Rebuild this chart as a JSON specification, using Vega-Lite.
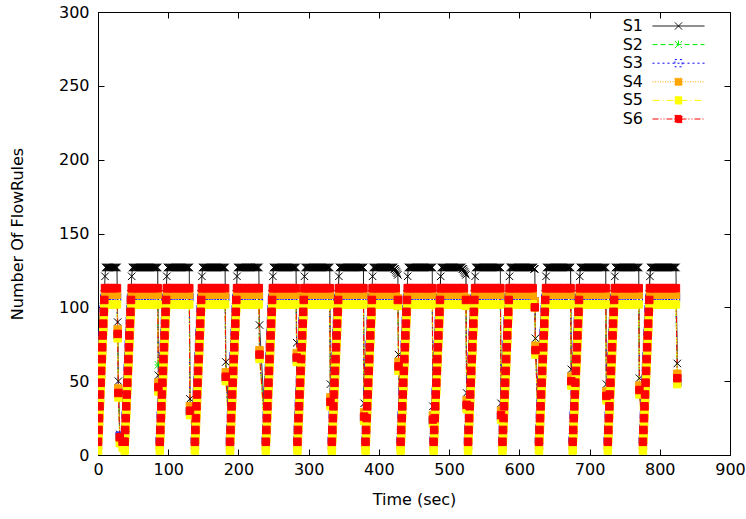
{
"$schema":"https://vega.github.io/schema/vega-lite/v6.json",
"width":632,"height":443,
"autosize":{"type":"none"},
"padding":{"left":98,"top":12,"right":16,"bottom":64},
"background":"white",
"config":{
"font":"DejaVu Sans",
"view":{"stroke":"black","strokeWidth":1},
"axis":{"labelFont":"DejaVu Sans","labelFontSize":16,"labelColor":"black","titleFont":"DejaVu Sans","titleFontSize":16,"titleFontWeight":"normal","titleColor":"black","grid":false,"domain":false,"tickColor":"black","tickSize":-6,"tickWidth":1,"labelFlush":false,"labelOverlap":false}
},
"data":{"values":[
{"t":0,"S1":12,"S2":7,"S3":10,"S4":6,"S5":3,"S6":9},
{"t":0.75,"S1":20,"S2":15,"S3":18,"S4":14,"S5":11,"S6":17},
{"t":1.5,"S1":28,"S2":23,"S3":27,"S4":22,"S5":19,"S6":25},
{"t":2.25,"S1":36,"S2":31,"S3":35,"S4":30,"S5":27,"S6":33},
{"t":3,"S1":44,"S2":39,"S3":43,"S4":38,"S5":35,"S6":41},
{"t":3.75,"S1":52,"S2":47,"S3":51,"S4":46,"S5":43,"S6":49},
{"t":4.5,"S1":60,"S2":55,"S3":59,"S4":54,"S5":51,"S6":57},
{"t":5.25,"S1":68,"S2":63,"S3":67,"S4":62,"S5":59,"S6":65},
{"t":6,"S1":76,"S2":71,"S3":75,"S4":70,"S5":67,"S6":73},
{"t":6.75,"S1":84,"S2":79,"S3":83,"S4":78,"S5":75,"S6":81},
{"t":7.5,"S1":92,"S2":87,"S3":91,"S4":86,"S5":83,"S6":89},
{"t":8.25,"S1":100,"S2":95,"S3":99,"S4":94,"S5":91,"S6":97},
{"t":9,"S1":109,"S2":101,"S3":106,"S4":104,"S5":99,"S6":105},
{"t":10,"S1":121,"S2":102,"S3":107,"S4":108.5,"S5":102,"S6":113},
{"t":11,"S1":127,"S2":102,"S3":107,"S4":108.5,"S5":102,"S6":113},
{"t":15,"S1":127,"S2":102,"S3":107,"S4":108.5,"S5":102,"S6":113},
{"t":19,"S1":127,"S2":102,"S3":107,"S4":108.5,"S5":102,"S6":113},
{"t":23,"S1":127,"S2":102,"S3":107,"S4":108.5,"S5":102,"S6":113},
{"t":27,"S1":127,"S2":102,"S3":107,"S4":108.5,"S5":102,"S6":113},
{"t":28,"S1":90,"S2":84,"S3":81,"S4":85,"S5":79,"S6":82},
{"t":29,"S1":50,"S2":44,"S3":41,"S4":45,"S5":39,"S6":42},
{"t":31,"S1":14,"S2":12,"S3":13,"S4":11,"S5":8,"S6":12},
{"t":35,"S1":10,"S2":9,"S3":10,"S4":8,"S5":5,"S6":9},
{"t":38,"S1":12,"S2":7,"S3":10,"S4":6,"S5":3,"S6":9},
{"t":38.75,"S1":20,"S2":15,"S3":18,"S4":14,"S5":11,"S6":17},
{"t":39.5,"S1":28,"S2":23,"S3":27,"S4":22,"S5":19,"S6":25},
{"t":40.25,"S1":36,"S2":31,"S3":35,"S4":30,"S5":27,"S6":33},
{"t":41,"S1":44,"S2":39,"S3":43,"S4":38,"S5":35,"S6":41},
{"t":41.75,"S1":52,"S2":47,"S3":51,"S4":46,"S5":43,"S6":49},
{"t":42.5,"S1":60,"S2":55,"S3":59,"S4":54,"S5":51,"S6":57},
{"t":43.25,"S1":68,"S2":63,"S3":67,"S4":62,"S5":59,"S6":65},
{"t":44,"S1":76,"S2":71,"S3":75,"S4":70,"S5":67,"S6":73},
{"t":44.75,"S1":84,"S2":79,"S3":83,"S4":78,"S5":75,"S6":81},
{"t":45.5,"S1":92,"S2":87,"S3":91,"S4":86,"S5":83,"S6":89},
{"t":46.25,"S1":100,"S2":95,"S3":99,"S4":94,"S5":91,"S6":97},
{"t":47,"S1":109,"S2":101,"S3":106,"S4":104,"S5":99,"S6":105},
{"t":48,"S1":121,"S2":102,"S3":107,"S4":108.5,"S5":102,"S6":113},
{"t":49,"S1":127,"S2":102,"S3":107,"S4":108.5,"S5":102,"S6":113},
{"t":53,"S1":127,"S2":102,"S3":107,"S4":108.5,"S5":102,"S6":113},
{"t":57,"S1":127,"S2":102,"S3":107,"S4":108.5,"S5":102,"S6":113},
{"t":61,"S1":127,"S2":102,"S3":107,"S4":108.5,"S5":102,"S6":113},
{"t":65,"S1":127,"S2":102,"S3":107,"S4":108.5,"S5":102,"S6":113},
{"t":69,"S1":127,"S2":102,"S3":107,"S4":108.5,"S5":102,"S6":113},
{"t":73,"S1":127,"S2":102,"S3":107,"S4":108.5,"S5":102,"S6":113},
{"t":77,"S1":127,"S2":102,"S3":107,"S4":108.5,"S5":102,"S6":113},
{"t":81,"S1":127,"S2":102,"S3":107,"S4":108.5,"S5":102,"S6":113},
{"t":85,"S1":127,"S2":102,"S3":107,"S4":108.5,"S5":102,"S6":113},
{"t":86,"S1":54,"S2":61,"S3":45,"S4":49,"S5":43,"S6":46},
{"t":88,"S1":12,"S2":7,"S3":10,"S4":6,"S5":3,"S6":9},
{"t":88.75,"S1":20,"S2":15,"S3":18,"S4":14,"S5":11,"S6":17},
{"t":89.5,"S1":28,"S2":23,"S3":27,"S4":22,"S5":19,"S6":25},
{"t":90.25,"S1":36,"S2":31,"S3":35,"S4":30,"S5":27,"S6":33},
{"t":91,"S1":44,"S2":39,"S3":43,"S4":38,"S5":35,"S6":41},
{"t":91.75,"S1":52,"S2":47,"S3":51,"S4":46,"S5":43,"S6":49},
{"t":92.5,"S1":60,"S2":55,"S3":59,"S4":54,"S5":51,"S6":57},
{"t":93.25,"S1":68,"S2":63,"S3":67,"S4":62,"S5":59,"S6":65},
{"t":94,"S1":76,"S2":71,"S3":75,"S4":70,"S5":67,"S6":73},
{"t":94.75,"S1":84,"S2":79,"S3":83,"S4":78,"S5":75,"S6":81},
{"t":95.5,"S1":92,"S2":87,"S3":91,"S4":86,"S5":83,"S6":89},
{"t":96.25,"S1":100,"S2":95,"S3":99,"S4":94,"S5":91,"S6":97},
{"t":97,"S1":109,"S2":101,"S3":106,"S4":104,"S5":99,"S6":105},
{"t":98,"S1":121,"S2":102,"S3":107,"S4":108.5,"S5":102,"S6":113},
{"t":99,"S1":127,"S2":102,"S3":107,"S4":108.5,"S5":102,"S6":113},
{"t":103,"S1":127,"S2":102,"S3":107,"S4":108.5,"S5":102,"S6":113},
{"t":107,"S1":127,"S2":102,"S3":107,"S4":108.5,"S5":102,"S6":113},
{"t":111,"S1":127,"S2":102,"S3":107,"S4":108.5,"S5":102,"S6":113},
{"t":115,"S1":127,"S2":102,"S3":107,"S4":108.5,"S5":102,"S6":113},
{"t":119,"S1":127,"S2":102,"S3":107,"S4":108.5,"S5":102,"S6":113},
{"t":123,"S1":127,"S2":102,"S3":107,"S4":108.5,"S5":102,"S6":113},
{"t":127,"S1":127,"S2":102,"S3":107,"S4":108.5,"S5":102,"S6":113},
{"t":130,"S1":127,"S2":102,"S3":107,"S4":108.5,"S5":102,"S6":113},
{"t":131,"S1":38,"S2":32,"S3":29,"S4":33,"S5":27,"S6":30},
{"t":138,"S1":12,"S2":7,"S3":10,"S4":6,"S5":3,"S6":9},
{"t":138.75,"S1":20,"S2":15,"S3":18,"S4":14,"S5":11,"S6":17},
{"t":139.5,"S1":28,"S2":23,"S3":27,"S4":22,"S5":19,"S6":25},
{"t":140.25,"S1":36,"S2":31,"S3":35,"S4":30,"S5":27,"S6":33},
{"t":141,"S1":44,"S2":39,"S3":43,"S4":38,"S5":35,"S6":41},
{"t":141.75,"S1":52,"S2":47,"S3":51,"S4":46,"S5":43,"S6":49},
{"t":142.5,"S1":60,"S2":55,"S3":59,"S4":54,"S5":51,"S6":57},
{"t":143.25,"S1":68,"S2":63,"S3":67,"S4":62,"S5":59,"S6":65},
{"t":144,"S1":76,"S2":71,"S3":75,"S4":70,"S5":67,"S6":73},
{"t":144.75,"S1":84,"S2":79,"S3":83,"S4":78,"S5":75,"S6":81},
{"t":145.5,"S1":92,"S2":87,"S3":91,"S4":86,"S5":83,"S6":89},
{"t":146.25,"S1":100,"S2":95,"S3":99,"S4":94,"S5":91,"S6":97},
{"t":147,"S1":109,"S2":101,"S3":106,"S4":104,"S5":99,"S6":105},
{"t":148,"S1":121,"S2":102,"S3":107,"S4":108.5,"S5":102,"S6":113},
{"t":149,"S1":127,"S2":102,"S3":107,"S4":108.5,"S5":102,"S6":113},
{"t":153,"S1":127,"S2":102,"S3":107,"S4":108.5,"S5":102,"S6":113},
{"t":157,"S1":127,"S2":102,"S3":107,"S4":108.5,"S5":102,"S6":113},
{"t":161,"S1":127,"S2":102,"S3":107,"S4":108.5,"S5":102,"S6":113},
{"t":165,"S1":127,"S2":102,"S3":107,"S4":108.5,"S5":102,"S6":113},
{"t":169,"S1":127,"S2":102,"S3":107,"S4":108.5,"S5":102,"S6":113},
{"t":173,"S1":127,"S2":102,"S3":107,"S4":108.5,"S5":102,"S6":113},
{"t":177,"S1":127,"S2":102,"S3":107,"S4":108.5,"S5":102,"S6":113},
{"t":181,"S1":127,"S2":102,"S3":107,"S4":108.5,"S5":102,"S6":113},
{"t":182,"S1":63,"S2":55,"S3":52,"S4":56,"S5":50,"S6":53},
{"t":188,"S1":12,"S2":7,"S3":10,"S4":6,"S5":3,"S6":9},
{"t":188.75,"S1":20,"S2":15,"S3":18,"S4":14,"S5":11,"S6":17},
{"t":189.5,"S1":28,"S2":23,"S3":27,"S4":22,"S5":19,"S6":25},
{"t":190.25,"S1":36,"S2":31,"S3":35,"S4":30,"S5":27,"S6":33},
{"t":191,"S1":44,"S2":39,"S3":43,"S4":38,"S5":35,"S6":41},
{"t":191.75,"S1":52,"S2":47,"S3":51,"S4":46,"S5":43,"S6":49},
{"t":192.5,"S1":60,"S2":55,"S3":59,"S4":54,"S5":51,"S6":57},
{"t":193.25,"S1":68,"S2":63,"S3":67,"S4":62,"S5":59,"S6":65},
{"t":194,"S1":76,"S2":71,"S3":75,"S4":70,"S5":67,"S6":73},
{"t":194.75,"S1":84,"S2":79,"S3":83,"S4":78,"S5":75,"S6":81},
{"t":195.5,"S1":92,"S2":87,"S3":91,"S4":86,"S5":83,"S6":89},
{"t":196.25,"S1":100,"S2":95,"S3":99,"S4":94,"S5":91,"S6":97},
{"t":197,"S1":109,"S2":101,"S3":106,"S4":104,"S5":99,"S6":105},
{"t":198,"S1":121,"S2":102,"S3":107,"S4":108.5,"S5":102,"S6":113},
{"t":199,"S1":127,"S2":102,"S3":107,"S4":108.5,"S5":102,"S6":113},
{"t":203,"S1":127,"S2":102,"S3":107,"S4":108.5,"S5":102,"S6":113},
{"t":207,"S1":127,"S2":102,"S3":107,"S4":108.5,"S5":102,"S6":113},
{"t":211,"S1":127,"S2":102,"S3":107,"S4":108.5,"S5":102,"S6":113},
{"t":215,"S1":127,"S2":102,"S3":107,"S4":108.5,"S5":102,"S6":113},
{"t":219,"S1":127,"S2":102,"S3":107,"S4":108.5,"S5":102,"S6":113},
{"t":223,"S1":127,"S2":102,"S3":107,"S4":108.5,"S5":102,"S6":113},
{"t":227,"S1":127,"S2":102,"S3":107,"S4":108.5,"S5":102,"S6":113},
{"t":229,"S1":127,"S2":102,"S3":107,"S4":108.5,"S5":102,"S6":113},
{"t":230,"S1":88,"S2":70,"S3":67,"S4":71,"S5":65,"S6":68},
{"t":239,"S1":12,"S2":7,"S3":10,"S4":6,"S5":3,"S6":9},
{"t":239.75,"S1":20,"S2":15,"S3":18,"S4":14,"S5":11,"S6":17},
{"t":240.5,"S1":28,"S2":23,"S3":27,"S4":22,"S5":19,"S6":25},
{"t":241.25,"S1":36,"S2":31,"S3":35,"S4":30,"S5":27,"S6":33},
{"t":242,"S1":44,"S2":39,"S3":43,"S4":38,"S5":35,"S6":41},
{"t":242.75,"S1":52,"S2":47,"S3":51,"S4":46,"S5":43,"S6":49},
{"t":243.5,"S1":60,"S2":55,"S3":59,"S4":54,"S5":51,"S6":57},
{"t":244.25,"S1":68,"S2":63,"S3":67,"S4":62,"S5":59,"S6":65},
{"t":245,"S1":76,"S2":71,"S3":75,"S4":70,"S5":67,"S6":73},
{"t":245.75,"S1":84,"S2":79,"S3":83,"S4":78,"S5":75,"S6":81},
{"t":246.5,"S1":92,"S2":87,"S3":91,"S4":86,"S5":83,"S6":89},
{"t":247.25,"S1":100,"S2":95,"S3":99,"S4":94,"S5":91,"S6":97},
{"t":248,"S1":109,"S2":101,"S3":106,"S4":104,"S5":99,"S6":105},
{"t":249,"S1":121,"S2":102,"S3":107,"S4":108.5,"S5":102,"S6":113},
{"t":250,"S1":127,"S2":102,"S3":107,"S4":108.5,"S5":102,"S6":113},
{"t":254,"S1":127,"S2":102,"S3":107,"S4":108.5,"S5":102,"S6":113},
{"t":258,"S1":127,"S2":102,"S3":107,"S4":108.5,"S5":102,"S6":113},
{"t":262,"S1":127,"S2":102,"S3":107,"S4":108.5,"S5":102,"S6":113},
{"t":266,"S1":127,"S2":102,"S3":107,"S4":108.5,"S5":102,"S6":113},
{"t":270,"S1":127,"S2":102,"S3":107,"S4":108.5,"S5":102,"S6":113},
{"t":274,"S1":127,"S2":102,"S3":107,"S4":108.5,"S5":102,"S6":113},
{"t":278,"S1":127,"S2":102,"S3":107,"S4":108.5,"S5":102,"S6":113},
{"t":282,"S1":127,"S2":102,"S3":107,"S4":108.5,"S5":102,"S6":113},
{"t":283,"S1":76,"S2":68,"S3":65,"S4":69,"S5":63,"S6":66},
{"t":284,"S1":12,"S2":7,"S3":10,"S4":6,"S5":3,"S6":9},
{"t":284.75,"S1":20,"S2":15,"S3":18,"S4":14,"S5":11,"S6":17},
{"t":285.5,"S1":28,"S2":23,"S3":27,"S4":22,"S5":19,"S6":25},
{"t":286.25,"S1":36,"S2":31,"S3":35,"S4":30,"S5":27,"S6":33},
{"t":287,"S1":44,"S2":39,"S3":43,"S4":38,"S5":35,"S6":41},
{"t":287.75,"S1":52,"S2":47,"S3":51,"S4":46,"S5":43,"S6":49},
{"t":288.5,"S1":60,"S2":55,"S3":59,"S4":54,"S5":51,"S6":57},
{"t":289.25,"S1":68,"S2":63,"S3":67,"S4":62,"S5":59,"S6":65},
{"t":290,"S1":76,"S2":71,"S3":75,"S4":70,"S5":67,"S6":73},
{"t":290.75,"S1":84,"S2":79,"S3":83,"S4":78,"S5":75,"S6":81},
{"t":291.5,"S1":92,"S2":87,"S3":91,"S4":86,"S5":83,"S6":89},
{"t":292.25,"S1":100,"S2":95,"S3":99,"S4":94,"S5":91,"S6":97},
{"t":293,"S1":109,"S2":101,"S3":106,"S4":104,"S5":99,"S6":105},
{"t":294,"S1":121,"S2":102,"S3":107,"S4":108.5,"S5":102,"S6":113},
{"t":295,"S1":127,"S2":102,"S3":107,"S4":108.5,"S5":102,"S6":113},
{"t":299,"S1":127,"S2":102,"S3":107,"S4":108.5,"S5":102,"S6":113},
{"t":303,"S1":127,"S2":102,"S3":107,"S4":108.5,"S5":102,"S6":113},
{"t":307,"S1":127,"S2":102,"S3":107,"S4":108.5,"S5":102,"S6":113},
{"t":311,"S1":127,"S2":102,"S3":107,"S4":108.5,"S5":102,"S6":113},
{"t":315,"S1":127,"S2":102,"S3":107,"S4":108.5,"S5":102,"S6":113},
{"t":319,"S1":127,"S2":102,"S3":107,"S4":108.5,"S5":102,"S6":113},
{"t":323,"S1":127,"S2":102,"S3":107,"S4":108.5,"S5":102,"S6":113},
{"t":327,"S1":127,"S2":102,"S3":107,"S4":108.5,"S5":102,"S6":113},
{"t":330,"S1":127,"S2":102,"S3":107,"S4":108.5,"S5":102,"S6":113},
{"t":331,"S1":48,"S2":38,"S3":35,"S4":39,"S5":33,"S6":36},
{"t":333,"S1":12,"S2":7,"S3":10,"S4":6,"S5":3,"S6":9},
{"t":333.75,"S1":20,"S2":15,"S3":18,"S4":14,"S5":11,"S6":17},
{"t":334.5,"S1":28,"S2":23,"S3":27,"S4":22,"S5":19,"S6":25},
{"t":335.25,"S1":36,"S2":31,"S3":35,"S4":30,"S5":27,"S6":33},
{"t":336,"S1":44,"S2":39,"S3":43,"S4":38,"S5":35,"S6":41},
{"t":336.75,"S1":52,"S2":47,"S3":51,"S4":46,"S5":43,"S6":49},
{"t":337.5,"S1":60,"S2":55,"S3":59,"S4":54,"S5":51,"S6":57},
{"t":338.25,"S1":68,"S2":63,"S3":67,"S4":62,"S5":59,"S6":65},
{"t":339,"S1":76,"S2":71,"S3":75,"S4":70,"S5":67,"S6":73},
{"t":339.75,"S1":84,"S2":79,"S3":83,"S4":78,"S5":75,"S6":81},
{"t":340.5,"S1":92,"S2":87,"S3":91,"S4":86,"S5":83,"S6":89},
{"t":341.25,"S1":100,"S2":95,"S3":99,"S4":94,"S5":91,"S6":97},
{"t":342,"S1":109,"S2":101,"S3":106,"S4":104,"S5":99,"S6":105},
{"t":343,"S1":121,"S2":102,"S3":107,"S4":108.5,"S5":102,"S6":113},
{"t":344,"S1":127,"S2":102,"S3":107,"S4":108.5,"S5":102,"S6":113},
{"t":348,"S1":127,"S2":102,"S3":107,"S4":108.5,"S5":102,"S6":113},
{"t":352,"S1":127,"S2":102,"S3":107,"S4":108.5,"S5":102,"S6":113},
{"t":356,"S1":127,"S2":102,"S3":107,"S4":108.5,"S5":102,"S6":113},
{"t":360,"S1":127,"S2":102,"S3":107,"S4":108.5,"S5":102,"S6":113},
{"t":364,"S1":127,"S2":102,"S3":107,"S4":108.5,"S5":102,"S6":113},
{"t":368,"S1":127,"S2":102,"S3":107,"S4":108.5,"S5":102,"S6":113},
{"t":372,"S1":127,"S2":102,"S3":107,"S4":108.5,"S5":102,"S6":113},
{"t":376,"S1":127,"S2":102,"S3":107,"S4":108.5,"S5":102,"S6":113},
{"t":378,"S1":127,"S2":102,"S3":107,"S4":108.5,"S5":102,"S6":113},
{"t":379,"S1":35,"S2":28,"S3":25,"S4":29,"S5":23,"S6":26},
{"t":381,"S1":12,"S2":7,"S3":10,"S4":6,"S5":3,"S6":9},
{"t":381.75,"S1":20,"S2":15,"S3":18,"S4":14,"S5":11,"S6":17},
{"t":382.5,"S1":28,"S2":23,"S3":27,"S4":22,"S5":19,"S6":25},
{"t":383.25,"S1":36,"S2":31,"S3":35,"S4":30,"S5":27,"S6":33},
{"t":384,"S1":44,"S2":39,"S3":43,"S4":38,"S5":35,"S6":41},
{"t":384.75,"S1":52,"S2":47,"S3":51,"S4":46,"S5":43,"S6":49},
{"t":385.5,"S1":60,"S2":55,"S3":59,"S4":54,"S5":51,"S6":57},
{"t":386.25,"S1":68,"S2":63,"S3":67,"S4":62,"S5":59,"S6":65},
{"t":387,"S1":76,"S2":71,"S3":75,"S4":70,"S5":67,"S6":73},
{"t":387.75,"S1":84,"S2":79,"S3":83,"S4":78,"S5":75,"S6":81},
{"t":388.5,"S1":92,"S2":87,"S3":91,"S4":86,"S5":83,"S6":89},
{"t":389.25,"S1":100,"S2":95,"S3":99,"S4":94,"S5":91,"S6":97},
{"t":390,"S1":109,"S2":101,"S3":106,"S4":104,"S5":99,"S6":105},
{"t":391,"S1":121,"S2":102,"S3":107,"S4":108.5,"S5":102,"S6":113},
{"t":392,"S1":127,"S2":102,"S3":107,"S4":108.5,"S5":102,"S6":113},
{"t":396,"S1":127,"S2":102,"S3":107,"S4":108.5,"S5":102,"S6":113},
{"t":400,"S1":127,"S2":102,"S3":107,"S4":108.5,"S5":102,"S6":113},
{"t":404,"S1":127,"S2":102,"S3":107,"S4":108.5,"S5":102,"S6":113},
{"t":408,"S1":127,"S2":102,"S3":107,"S4":108.5,"S5":102,"S6":113},
{"t":412,"S1":127,"S2":102,"S3":107,"S4":108.5,"S5":102,"S6":113},
{"t":416,"S1":127,"S2":102,"S3":107,"S4":108.5,"S5":102,"S6":113},
{"t":420,"S1":127,"S2":102,"S3":107,"S4":108.5,"S5":102,"S6":113},
{"t":424,"S1":125,"S2":102,"S3":107,"S4":108.5,"S5":102,"S6":113},
{"t":427,"S1":122,"S2":101,"S3":105,"S4":106,"S5":101,"S6":105},
{"t":428,"S1":68,"S2":62,"S3":59,"S4":63,"S5":57,"S6":60},
{"t":431,"S1":12,"S2":7,"S3":10,"S4":6,"S5":3,"S6":9},
{"t":431.75,"S1":20,"S2":15,"S3":18,"S4":14,"S5":11,"S6":17},
{"t":432.5,"S1":28,"S2":23,"S3":27,"S4":22,"S5":19,"S6":25},
{"t":433.25,"S1":36,"S2":31,"S3":35,"S4":30,"S5":27,"S6":33},
{"t":434,"S1":44,"S2":39,"S3":43,"S4":38,"S5":35,"S6":41},
{"t":434.75,"S1":52,"S2":47,"S3":51,"S4":46,"S5":43,"S6":49},
{"t":435.5,"S1":60,"S2":55,"S3":59,"S4":54,"S5":51,"S6":57},
{"t":436.25,"S1":68,"S2":63,"S3":67,"S4":62,"S5":59,"S6":65},
{"t":437,"S1":76,"S2":71,"S3":75,"S4":70,"S5":67,"S6":73},
{"t":437.75,"S1":84,"S2":79,"S3":83,"S4":78,"S5":75,"S6":81},
{"t":438.5,"S1":92,"S2":87,"S3":91,"S4":86,"S5":83,"S6":89},
{"t":439.25,"S1":100,"S2":95,"S3":99,"S4":94,"S5":91,"S6":97},
{"t":440,"S1":109,"S2":101,"S3":106,"S4":104,"S5":99,"S6":105},
{"t":441,"S1":121,"S2":102,"S3":107,"S4":108.5,"S5":102,"S6":113},
{"t":442,"S1":127,"S2":102,"S3":107,"S4":108.5,"S5":102,"S6":113},
{"t":446,"S1":127,"S2":102,"S3":107,"S4":108.5,"S5":102,"S6":113},
{"t":450,"S1":127,"S2":102,"S3":107,"S4":108.5,"S5":102,"S6":113},
{"t":454,"S1":127,"S2":102,"S3":107,"S4":108.5,"S5":102,"S6":113},
{"t":458,"S1":127,"S2":102,"S3":107,"S4":108.5,"S5":102,"S6":113},
{"t":462,"S1":127,"S2":102,"S3":107,"S4":108.5,"S5":102,"S6":113},
{"t":466,"S1":127,"S2":102,"S3":107,"S4":108.5,"S5":102,"S6":113},
{"t":470,"S1":127,"S2":102,"S3":107,"S4":108.5,"S5":102,"S6":113},
{"t":474,"S1":127,"S2":102,"S3":107,"S4":108.5,"S5":102,"S6":113},
{"t":476,"S1":127,"S2":102,"S3":107,"S4":108.5,"S5":102,"S6":113},
{"t":477,"S1":33,"S2":26,"S3":23,"S4":27,"S5":21,"S6":24},
{"t":478,"S1":12,"S2":7,"S3":10,"S4":6,"S5":3,"S6":9},
{"t":478.75,"S1":20,"S2":15,"S3":18,"S4":14,"S5":11,"S6":17},
{"t":479.5,"S1":28,"S2":23,"S3":27,"S4":22,"S5":19,"S6":25},
{"t":480.25,"S1":36,"S2":31,"S3":35,"S4":30,"S5":27,"S6":33},
{"t":481,"S1":44,"S2":39,"S3":43,"S4":38,"S5":35,"S6":41},
{"t":481.75,"S1":52,"S2":47,"S3":51,"S4":46,"S5":43,"S6":49},
{"t":482.5,"S1":60,"S2":55,"S3":59,"S4":54,"S5":51,"S6":57},
{"t":483.25,"S1":68,"S2":63,"S3":67,"S4":62,"S5":59,"S6":65},
{"t":484,"S1":76,"S2":71,"S3":75,"S4":70,"S5":67,"S6":73},
{"t":484.75,"S1":84,"S2":79,"S3":83,"S4":78,"S5":75,"S6":81},
{"t":485.5,"S1":92,"S2":87,"S3":91,"S4":86,"S5":83,"S6":89},
{"t":486.25,"S1":100,"S2":95,"S3":99,"S4":94,"S5":91,"S6":97},
{"t":487,"S1":109,"S2":101,"S3":106,"S4":104,"S5":99,"S6":105},
{"t":488,"S1":121,"S2":102,"S3":107,"S4":108.5,"S5":102,"S6":113},
{"t":489,"S1":127,"S2":102,"S3":107,"S4":108.5,"S5":102,"S6":113},
{"t":493,"S1":127,"S2":102,"S3":107,"S4":108.5,"S5":102,"S6":113},
{"t":497,"S1":127,"S2":102,"S3":107,"S4":108.5,"S5":102,"S6":113},
{"t":501,"S1":127,"S2":102,"S3":107,"S4":108.5,"S5":102,"S6":113},
{"t":505,"S1":127,"S2":102,"S3":107,"S4":108.5,"S5":102,"S6":113},
{"t":509,"S1":127,"S2":102,"S3":107,"S4":108.5,"S5":102,"S6":113},
{"t":513,"S1":127,"S2":102,"S3":107,"S4":108.5,"S5":102,"S6":113},
{"t":517,"S1":127,"S2":102,"S3":107,"S4":108.5,"S5":102,"S6":113},
{"t":521,"S1":125,"S2":102,"S3":107,"S4":108.5,"S5":102,"S6":113},
{"t":524,"S1":122,"S2":101,"S3":105,"S4":106,"S5":101,"S6":105},
{"t":525,"S1":42,"S2":36,"S3":33,"S4":37,"S5":31,"S6":34},
{"t":527,"S1":12,"S2":7,"S3":10,"S4":6,"S5":3,"S6":9},
{"t":527.75,"S1":20,"S2":15,"S3":18,"S4":14,"S5":11,"S6":17},
{"t":528.5,"S1":28,"S2":23,"S3":27,"S4":22,"S5":19,"S6":25},
{"t":529.25,"S1":36,"S2":31,"S3":35,"S4":30,"S5":27,"S6":33},
{"t":530,"S1":44,"S2":39,"S3":43,"S4":38,"S5":35,"S6":41},
{"t":530.75,"S1":52,"S2":47,"S3":51,"S4":46,"S5":43,"S6":49},
{"t":531.5,"S1":60,"S2":55,"S3":59,"S4":54,"S5":51,"S6":57},
{"t":532.25,"S1":68,"S2":63,"S3":67,"S4":62,"S5":59,"S6":65},
{"t":533,"S1":76,"S2":71,"S3":75,"S4":70,"S5":67,"S6":73},
{"t":533.75,"S1":84,"S2":79,"S3":83,"S4":78,"S5":75,"S6":81},
{"t":534.5,"S1":92,"S2":87,"S3":91,"S4":86,"S5":83,"S6":89},
{"t":535.25,"S1":100,"S2":95,"S3":99,"S4":94,"S5":91,"S6":97},
{"t":536,"S1":109,"S2":101,"S3":106,"S4":104,"S5":99,"S6":105},
{"t":537,"S1":121,"S2":102,"S3":107,"S4":108.5,"S5":102,"S6":113},
{"t":538,"S1":127,"S2":102,"S3":107,"S4":108.5,"S5":102,"S6":113},
{"t":542,"S1":127,"S2":102,"S3":107,"S4":108.5,"S5":102,"S6":113},
{"t":546,"S1":127,"S2":102,"S3":107,"S4":108.5,"S5":102,"S6":113},
{"t":550,"S1":127,"S2":102,"S3":107,"S4":108.5,"S5":102,"S6":113},
{"t":554,"S1":127,"S2":102,"S3":107,"S4":108.5,"S5":102,"S6":113},
{"t":558,"S1":127,"S2":102,"S3":107,"S4":108.5,"S5":102,"S6":113},
{"t":562,"S1":127,"S2":102,"S3":107,"S4":108.5,"S5":102,"S6":113},
{"t":566,"S1":127,"S2":102,"S3":107,"S4":108.5,"S5":102,"S6":113},
{"t":570,"S1":127,"S2":102,"S3":107,"S4":108.5,"S5":102,"S6":113},
{"t":573,"S1":127,"S2":102,"S3":107,"S4":108.5,"S5":102,"S6":113},
{"t":574,"S1":35,"S2":29,"S3":26,"S4":30,"S5":24,"S6":27},
{"t":576,"S1":12,"S2":7,"S3":10,"S4":6,"S5":3,"S6":9},
{"t":576.75,"S1":20,"S2":15,"S3":18,"S4":14,"S5":11,"S6":17},
{"t":577.5,"S1":28,"S2":23,"S3":27,"S4":22,"S5":19,"S6":25},
{"t":578.25,"S1":36,"S2":31,"S3":35,"S4":30,"S5":27,"S6":33},
{"t":579,"S1":44,"S2":39,"S3":43,"S4":38,"S5":35,"S6":41},
{"t":579.75,"S1":52,"S2":47,"S3":51,"S4":46,"S5":43,"S6":49},
{"t":580.5,"S1":60,"S2":55,"S3":59,"S4":54,"S5":51,"S6":57},
{"t":581.25,"S1":68,"S2":63,"S3":67,"S4":62,"S5":59,"S6":65},
{"t":582,"S1":76,"S2":71,"S3":75,"S4":70,"S5":67,"S6":73},
{"t":582.75,"S1":84,"S2":79,"S3":83,"S4":78,"S5":75,"S6":81},
{"t":583.5,"S1":92,"S2":87,"S3":91,"S4":86,"S5":83,"S6":89},
{"t":584.25,"S1":100,"S2":95,"S3":99,"S4":94,"S5":91,"S6":97},
{"t":585,"S1":109,"S2":101,"S3":106,"S4":104,"S5":99,"S6":105},
{"t":586,"S1":121,"S2":102,"S3":107,"S4":108.5,"S5":102,"S6":113},
{"t":587,"S1":127,"S2":102,"S3":107,"S4":108.5,"S5":102,"S6":113},
{"t":591,"S1":127,"S2":102,"S3":107,"S4":108.5,"S5":102,"S6":113},
{"t":595,"S1":127,"S2":102,"S3":107,"S4":108.5,"S5":102,"S6":113},
{"t":599,"S1":127,"S2":102,"S3":107,"S4":108.5,"S5":102,"S6":113},
{"t":603,"S1":127,"S2":102,"S3":107,"S4":108.5,"S5":102,"S6":113},
{"t":607,"S1":127,"S2":102,"S3":107,"S4":108.5,"S5":102,"S6":113},
{"t":611,"S1":127,"S2":102,"S3":107,"S4":108.5,"S5":102,"S6":113},
{"t":615,"S1":127,"S2":102,"S3":107,"S4":108.5,"S5":102,"S6":113},
{"t":619,"S1":127,"S2":102,"S3":107,"S4":108.5,"S5":102,"S6":113},
{"t":622,"S1":126,"S2":101,"S3":104,"S4":104,"S5":100,"S6":100},
{"t":623,"S1":79,"S2":73,"S3":70,"S4":74,"S5":68,"S6":71},
{"t":628,"S1":12,"S2":7,"S3":10,"S4":6,"S5":3,"S6":9},
{"t":628.75,"S1":20,"S2":15,"S3":18,"S4":14,"S5":11,"S6":17},
{"t":629.5,"S1":28,"S2":23,"S3":27,"S4":22,"S5":19,"S6":25},
{"t":630.25,"S1":36,"S2":31,"S3":35,"S4":30,"S5":27,"S6":33},
{"t":631,"S1":44,"S2":39,"S3":43,"S4":38,"S5":35,"S6":41},
{"t":631.75,"S1":52,"S2":47,"S3":51,"S4":46,"S5":43,"S6":49},
{"t":632.5,"S1":60,"S2":55,"S3":59,"S4":54,"S5":51,"S6":57},
{"t":633.25,"S1":68,"S2":63,"S3":67,"S4":62,"S5":59,"S6":65},
{"t":634,"S1":76,"S2":71,"S3":75,"S4":70,"S5":67,"S6":73},
{"t":634.75,"S1":84,"S2":79,"S3":83,"S4":78,"S5":75,"S6":81},
{"t":635.5,"S1":92,"S2":87,"S3":91,"S4":86,"S5":83,"S6":89},
{"t":636.25,"S1":100,"S2":95,"S3":99,"S4":94,"S5":91,"S6":97},
{"t":637,"S1":109,"S2":101,"S3":106,"S4":104,"S5":99,"S6":105},
{"t":638,"S1":121,"S2":102,"S3":107,"S4":108.5,"S5":102,"S6":113},
{"t":639,"S1":127,"S2":102,"S3":107,"S4":108.5,"S5":102,"S6":113},
{"t":643,"S1":127,"S2":102,"S3":107,"S4":108.5,"S5":102,"S6":113},
{"t":647,"S1":127,"S2":102,"S3":107,"S4":108.5,"S5":102,"S6":113},
{"t":651,"S1":127,"S2":102,"S3":107,"S4":108.5,"S5":102,"S6":113},
{"t":655,"S1":127,"S2":102,"S3":107,"S4":108.5,"S5":102,"S6":113},
{"t":659,"S1":127,"S2":102,"S3":107,"S4":108.5,"S5":102,"S6":113},
{"t":663,"S1":127,"S2":102,"S3":107,"S4":108.5,"S5":102,"S6":113},
{"t":667,"S1":127,"S2":102,"S3":107,"S4":108.5,"S5":102,"S6":113},
{"t":671,"S1":127,"S2":102,"S3":107,"S4":108.5,"S5":102,"S6":113},
{"t":673,"S1":127,"S2":102,"S3":107,"S4":108.5,"S5":102,"S6":113},
{"t":674,"S1":58,"S2":52,"S3":49,"S4":53,"S5":47,"S6":50},
{"t":676,"S1":12,"S2":7,"S3":10,"S4":6,"S5":3,"S6":9},
{"t":676.75,"S1":20,"S2":15,"S3":18,"S4":14,"S5":11,"S6":17},
{"t":677.5,"S1":28,"S2":23,"S3":27,"S4":22,"S5":19,"S6":25},
{"t":678.25,"S1":36,"S2":31,"S3":35,"S4":30,"S5":27,"S6":33},
{"t":679,"S1":44,"S2":39,"S3":43,"S4":38,"S5":35,"S6":41},
{"t":679.75,"S1":52,"S2":47,"S3":51,"S4":46,"S5":43,"S6":49},
{"t":680.5,"S1":60,"S2":55,"S3":59,"S4":54,"S5":51,"S6":57},
{"t":681.25,"S1":68,"S2":63,"S3":67,"S4":62,"S5":59,"S6":65},
{"t":682,"S1":76,"S2":71,"S3":75,"S4":70,"S5":67,"S6":73},
{"t":682.75,"S1":84,"S2":79,"S3":83,"S4":78,"S5":75,"S6":81},
{"t":683.5,"S1":92,"S2":87,"S3":91,"S4":86,"S5":83,"S6":89},
{"t":684.25,"S1":100,"S2":95,"S3":99,"S4":94,"S5":91,"S6":97},
{"t":685,"S1":109,"S2":101,"S3":106,"S4":104,"S5":99,"S6":105},
{"t":686,"S1":121,"S2":102,"S3":107,"S4":108.5,"S5":102,"S6":113},
{"t":687,"S1":127,"S2":102,"S3":107,"S4":108.5,"S5":102,"S6":113},
{"t":691,"S1":127,"S2":102,"S3":107,"S4":108.5,"S5":102,"S6":113},
{"t":695,"S1":127,"S2":102,"S3":107,"S4":108.5,"S5":102,"S6":113},
{"t":699,"S1":127,"S2":102,"S3":107,"S4":108.5,"S5":102,"S6":113},
{"t":703,"S1":127,"S2":102,"S3":107,"S4":108.5,"S5":102,"S6":113},
{"t":707,"S1":127,"S2":102,"S3":107,"S4":108.5,"S5":102,"S6":113},
{"t":711,"S1":127,"S2":102,"S3":107,"S4":108.5,"S5":102,"S6":113},
{"t":715,"S1":127,"S2":102,"S3":107,"S4":108.5,"S5":102,"S6":113},
{"t":719,"S1":127,"S2":102,"S3":107,"S4":108.5,"S5":102,"S6":113},
{"t":723,"S1":127,"S2":102,"S3":107,"S4":108.5,"S5":102,"S6":113},
{"t":724,"S1":48,"S2":42,"S3":39,"S4":43,"S5":37,"S6":40},
{"t":726,"S1":12,"S2":7,"S3":10,"S4":6,"S5":3,"S6":9},
{"t":726.75,"S1":20,"S2":15,"S3":18,"S4":14,"S5":11,"S6":17},
{"t":727.5,"S1":28,"S2":23,"S3":27,"S4":22,"S5":19,"S6":25},
{"t":728.25,"S1":36,"S2":31,"S3":35,"S4":30,"S5":27,"S6":33},
{"t":729,"S1":44,"S2":39,"S3":43,"S4":38,"S5":35,"S6":41},
{"t":729.75,"S1":52,"S2":47,"S3":51,"S4":46,"S5":43,"S6":49},
{"t":730.5,"S1":60,"S2":55,"S3":59,"S4":54,"S5":51,"S6":57},
{"t":731.25,"S1":68,"S2":63,"S3":67,"S4":62,"S5":59,"S6":65},
{"t":732,"S1":76,"S2":71,"S3":75,"S4":70,"S5":67,"S6":73},
{"t":732.75,"S1":84,"S2":79,"S3":83,"S4":78,"S5":75,"S6":81},
{"t":733.5,"S1":92,"S2":87,"S3":91,"S4":86,"S5":83,"S6":89},
{"t":734.25,"S1":100,"S2":95,"S3":99,"S4":94,"S5":91,"S6":97},
{"t":735,"S1":109,"S2":101,"S3":106,"S4":104,"S5":99,"S6":105},
{"t":736,"S1":121,"S2":102,"S3":107,"S4":108.5,"S5":102,"S6":113},
{"t":737,"S1":127,"S2":102,"S3":107,"S4":108.5,"S5":102,"S6":113},
{"t":741,"S1":127,"S2":102,"S3":107,"S4":108.5,"S5":102,"S6":113},
{"t":745,"S1":127,"S2":102,"S3":107,"S4":108.5,"S5":102,"S6":113},
{"t":749,"S1":127,"S2":102,"S3":107,"S4":108.5,"S5":102,"S6":113},
{"t":753,"S1":127,"S2":102,"S3":107,"S4":108.5,"S5":102,"S6":113},
{"t":757,"S1":127,"S2":102,"S3":107,"S4":108.5,"S5":102,"S6":113},
{"t":761,"S1":127,"S2":102,"S3":107,"S4":108.5,"S5":102,"S6":113},
{"t":765,"S1":127,"S2":102,"S3":107,"S4":108.5,"S5":102,"S6":113},
{"t":770,"S1":127,"S2":102,"S3":107,"S4":108.5,"S5":102,"S6":113},
{"t":771,"S1":52,"S2":46,"S3":43,"S4":47,"S5":41,"S6":44},
{"t":776,"S1":12,"S2":7,"S3":10,"S4":6,"S5":3,"S6":9},
{"t":776.75,"S1":20,"S2":15,"S3":18,"S4":14,"S5":11,"S6":17},
{"t":777.5,"S1":28,"S2":23,"S3":27,"S4":22,"S5":19,"S6":25},
{"t":778.25,"S1":36,"S2":31,"S3":35,"S4":30,"S5":27,"S6":33},
{"t":779,"S1":44,"S2":39,"S3":43,"S4":38,"S5":35,"S6":41},
{"t":779.75,"S1":52,"S2":47,"S3":51,"S4":46,"S5":43,"S6":49},
{"t":780.5,"S1":60,"S2":55,"S3":59,"S4":54,"S5":51,"S6":57},
{"t":781.25,"S1":68,"S2":63,"S3":67,"S4":62,"S5":59,"S6":65},
{"t":782,"S1":76,"S2":71,"S3":75,"S4":70,"S5":67,"S6":73},
{"t":782.75,"S1":84,"S2":79,"S3":83,"S4":78,"S5":75,"S6":81},
{"t":783.5,"S1":92,"S2":87,"S3":91,"S4":86,"S5":83,"S6":89},
{"t":784.25,"S1":100,"S2":95,"S3":99,"S4":94,"S5":91,"S6":97},
{"t":785,"S1":109,"S2":101,"S3":106,"S4":104,"S5":99,"S6":105},
{"t":786,"S1":121,"S2":102,"S3":107,"S4":108.5,"S5":102,"S6":113},
{"t":787,"S1":127,"S2":102,"S3":107,"S4":108.5,"S5":102,"S6":113},
{"t":791,"S1":127,"S2":102,"S3":107,"S4":108.5,"S5":102,"S6":113},
{"t":795,"S1":127,"S2":102,"S3":107,"S4":108.5,"S5":102,"S6":113},
{"t":799,"S1":127,"S2":102,"S3":107,"S4":108.5,"S5":102,"S6":113},
{"t":803,"S1":127,"S2":102,"S3":107,"S4":108.5,"S5":102,"S6":113},
{"t":807,"S1":127,"S2":102,"S3":107,"S4":108.5,"S5":102,"S6":113},
{"t":811,"S1":127,"S2":102,"S3":107,"S4":108.5,"S5":102,"S6":113},
{"t":815,"S1":127,"S2":102,"S3":107,"S4":108.5,"S5":102,"S6":113},
{"t":819,"S1":127,"S2":102,"S3":107,"S4":108.5,"S5":102,"S6":113},
{"t":823,"S1":127,"S2":102,"S3":107,"S4":108.5,"S5":102,"S6":113},
{"t":825,"S1":62,"S2":50,"S3":49,"S4":55,"S5":48,"S6":52},
{"t":12,"S1":127},{"t":13,"S1":127},{"t":14,"S1":127},{"t":16,"S1":127},{"t":17,"S1":127},{"t":18,"S1":127},{"t":20,"S1":127},{"t":21,"S1":127},{"t":22,"S1":127},{"t":24,"S1":127},{"t":25,"S1":127},{"t":26,"S1":127},
{"t":50,"S1":127},{"t":51,"S1":127},{"t":52,"S1":127},{"t":54,"S1":127},{"t":55,"S1":127},{"t":56,"S1":127},{"t":58,"S1":127},{"t":59,"S1":127},{"t":60,"S1":127},{"t":62,"S1":127},{"t":63,"S1":127},{"t":64,"S1":127},{"t":66,"S1":127},{"t":67,"S1":127},{"t":68,"S1":127},{"t":70,"S1":127},{"t":71,"S1":127},{"t":72,"S1":127},{"t":74,"S1":127},{"t":75,"S1":127},{"t":76,"S1":127},{"t":78,"S1":127},{"t":79,"S1":127},{"t":80,"S1":127},{"t":82,"S1":127},{"t":83,"S1":127},{"t":84,"S1":127},
{"t":100,"S1":127},{"t":101,"S1":127},{"t":102,"S1":127},{"t":104,"S1":127},{"t":105,"S1":127},{"t":106,"S1":127},{"t":108,"S1":127},{"t":109,"S1":127},{"t":110,"S1":127},{"t":112,"S1":127},{"t":113,"S1":127},{"t":114,"S1":127},{"t":116,"S1":127},{"t":117,"S1":127},{"t":118,"S1":127},{"t":120,"S1":127},{"t":121,"S1":127},{"t":122,"S1":127},{"t":124,"S1":127},{"t":125,"S1":127},{"t":126,"S1":127},{"t":128,"S1":127},{"t":129,"S1":127},
{"t":150,"S1":127},{"t":151,"S1":127},{"t":152,"S1":127},{"t":154,"S1":127},{"t":155,"S1":127},{"t":156,"S1":127},{"t":158,"S1":127},{"t":159,"S1":127},{"t":160,"S1":127},{"t":162,"S1":127},{"t":163,"S1":127},{"t":164,"S1":127},{"t":166,"S1":127},{"t":167,"S1":127},{"t":168,"S1":127},{"t":170,"S1":127},{"t":171,"S1":127},{"t":172,"S1":127},{"t":174,"S1":127},{"t":175,"S1":127},{"t":176,"S1":127},{"t":178,"S1":127},{"t":179,"S1":127},{"t":180,"S1":127},
{"t":200,"S1":127},{"t":201,"S1":127},{"t":202,"S1":127},{"t":204,"S1":127},{"t":205,"S1":127},{"t":206,"S1":127},{"t":208,"S1":127},{"t":209,"S1":127},{"t":210,"S1":127},{"t":212,"S1":127},{"t":213,"S1":127},{"t":214,"S1":127},{"t":216,"S1":127},{"t":217,"S1":127},{"t":218,"S1":127},{"t":220,"S1":127},{"t":221,"S1":127},{"t":222,"S1":127},{"t":224,"S1":127},{"t":225,"S1":127},{"t":226,"S1":127},{"t":228,"S1":127},
{"t":251,"S1":127},{"t":252,"S1":127},{"t":253,"S1":127},{"t":255,"S1":127},{"t":256,"S1":127},{"t":257,"S1":127},{"t":259,"S1":127},{"t":260,"S1":127},{"t":261,"S1":127},{"t":263,"S1":127},{"t":264,"S1":127},{"t":265,"S1":127},{"t":267,"S1":127},{"t":268,"S1":127},{"t":269,"S1":127},{"t":271,"S1":127},{"t":272,"S1":127},{"t":273,"S1":127},{"t":275,"S1":127},{"t":276,"S1":127},{"t":277,"S1":127},{"t":279,"S1":127},{"t":280,"S1":127},{"t":281,"S1":127},
{"t":296,"S1":127},{"t":297,"S1":127},{"t":298,"S1":127},{"t":300,"S1":127},{"t":301,"S1":127},{"t":302,"S1":127},{"t":304,"S1":127},{"t":305,"S1":127},{"t":306,"S1":127},{"t":308,"S1":127},{"t":309,"S1":127},{"t":310,"S1":127},{"t":312,"S1":127},{"t":313,"S1":127},{"t":314,"S1":127},{"t":316,"S1":127},{"t":317,"S1":127},{"t":318,"S1":127},{"t":320,"S1":127},{"t":321,"S1":127},{"t":322,"S1":127},{"t":324,"S1":127},{"t":325,"S1":127},{"t":326,"S1":127},{"t":328,"S1":127},{"t":329,"S1":127},
{"t":345,"S1":127},{"t":346,"S1":127},{"t":347,"S1":127},{"t":349,"S1":127},{"t":350,"S1":127},{"t":351,"S1":127},{"t":353,"S1":127},{"t":354,"S1":127},{"t":355,"S1":127},{"t":357,"S1":127},{"t":358,"S1":127},{"t":359,"S1":127},{"t":361,"S1":127},{"t":362,"S1":127},{"t":363,"S1":127},{"t":365,"S1":127},{"t":366,"S1":127},{"t":367,"S1":127},{"t":369,"S1":127},{"t":370,"S1":127},{"t":371,"S1":127},{"t":373,"S1":127},{"t":374,"S1":127},{"t":375,"S1":127},{"t":377,"S1":127},
{"t":393,"S1":127},{"t":394,"S1":127},{"t":395,"S1":127},{"t":397,"S1":127},{"t":398,"S1":127},{"t":399,"S1":127},{"t":401,"S1":127},{"t":402,"S1":127},{"t":403,"S1":127},{"t":405,"S1":127},{"t":406,"S1":127},{"t":407,"S1":127},{"t":409,"S1":127},{"t":410,"S1":127},{"t":411,"S1":127},{"t":413,"S1":127},{"t":414,"S1":127},{"t":415,"S1":127},{"t":417,"S1":127},{"t":418,"S1":127},{"t":419,"S1":127},{"t":421,"S1":127},{"t":422,"S1":126},{"t":423,"S1":126},{"t":425,"S1":124},{"t":426,"S1":123},
{"t":443,"S1":127},{"t":444,"S1":127},{"t":445,"S1":127},{"t":447,"S1":127},{"t":448,"S1":127},{"t":449,"S1":127},{"t":451,"S1":127},{"t":452,"S1":127},{"t":453,"S1":127},{"t":455,"S1":127},{"t":456,"S1":127},{"t":457,"S1":127},{"t":459,"S1":127},{"t":460,"S1":127},{"t":461,"S1":127},{"t":463,"S1":127},{"t":464,"S1":127},{"t":465,"S1":127},{"t":467,"S1":127},{"t":468,"S1":127},{"t":469,"S1":127},{"t":471,"S1":127},{"t":472,"S1":127},{"t":473,"S1":127},{"t":475,"S1":127},
{"t":490,"S1":127},{"t":491,"S1":127},{"t":492,"S1":127},{"t":494,"S1":127},{"t":495,"S1":127},{"t":496,"S1":127},{"t":498,"S1":127},{"t":499,"S1":127},{"t":500,"S1":127},{"t":502,"S1":127},{"t":503,"S1":127},{"t":504,"S1":127},{"t":506,"S1":127},{"t":507,"S1":127},{"t":508,"S1":127},{"t":510,"S1":127},{"t":511,"S1":127},{"t":512,"S1":127},{"t":514,"S1":127},{"t":515,"S1":127},{"t":516,"S1":127},{"t":518,"S1":127},{"t":519,"S1":126},{"t":520,"S1":126},{"t":522,"S1":124},{"t":523,"S1":123},
{"t":539,"S1":127},{"t":540,"S1":127},{"t":541,"S1":127},{"t":543,"S1":127},{"t":544,"S1":127},{"t":545,"S1":127},{"t":547,"S1":127},{"t":548,"S1":127},{"t":549,"S1":127},{"t":551,"S1":127},{"t":552,"S1":127},{"t":553,"S1":127},{"t":555,"S1":127},{"t":556,"S1":127},{"t":557,"S1":127},{"t":559,"S1":127},{"t":560,"S1":127},{"t":561,"S1":127},{"t":563,"S1":127},{"t":564,"S1":127},{"t":565,"S1":127},{"t":567,"S1":127},{"t":568,"S1":127},{"t":569,"S1":127},{"t":571,"S1":127},{"t":572,"S1":127},
{"t":588,"S1":127},{"t":589,"S1":127},{"t":590,"S1":127},{"t":592,"S1":127},{"t":593,"S1":127},{"t":594,"S1":127},{"t":596,"S1":127},{"t":597,"S1":127},{"t":598,"S1":127},{"t":600,"S1":127},{"t":601,"S1":127},{"t":602,"S1":127},{"t":604,"S1":127},{"t":605,"S1":127},{"t":606,"S1":127},{"t":608,"S1":127},{"t":609,"S1":127},{"t":610,"S1":127},{"t":612,"S1":127},{"t":613,"S1":127},{"t":614,"S1":127},{"t":616,"S1":127},{"t":617,"S1":127},{"t":618,"S1":127},{"t":620,"S1":127},{"t":621,"S1":126},
{"t":640,"S1":127},{"t":641,"S1":127},{"t":642,"S1":127},{"t":644,"S1":127},{"t":645,"S1":127},{"t":646,"S1":127},{"t":648,"S1":127},{"t":649,"S1":127},{"t":650,"S1":127},{"t":652,"S1":127},{"t":653,"S1":127},{"t":654,"S1":127},{"t":656,"S1":127},{"t":657,"S1":127},{"t":658,"S1":127},{"t":660,"S1":127},{"t":661,"S1":127},{"t":662,"S1":127},{"t":664,"S1":127},{"t":665,"S1":127},{"t":666,"S1":127},{"t":668,"S1":127},{"t":669,"S1":127},{"t":670,"S1":127},{"t":672,"S1":127},
{"t":688,"S1":127},{"t":689,"S1":127},{"t":690,"S1":127},{"t":692,"S1":127},{"t":693,"S1":127},{"t":694,"S1":127},{"t":696,"S1":127},{"t":697,"S1":127},{"t":698,"S1":127},{"t":700,"S1":127},{"t":701,"S1":127},{"t":702,"S1":127},{"t":704,"S1":127},{"t":705,"S1":127},{"t":706,"S1":127},{"t":708,"S1":127},{"t":709,"S1":127},{"t":710,"S1":127},{"t":712,"S1":127},{"t":713,"S1":127},{"t":714,"S1":127},{"t":716,"S1":127},{"t":717,"S1":127},{"t":718,"S1":127},{"t":720,"S1":127},{"t":721,"S1":127},{"t":722,"S1":127},
{"t":738,"S1":127},{"t":739,"S1":127},{"t":740,"S1":127},{"t":742,"S1":127},{"t":743,"S1":127},{"t":744,"S1":127},{"t":746,"S1":127},{"t":747,"S1":127},{"t":748,"S1":127},{"t":750,"S1":127},{"t":751,"S1":127},{"t":752,"S1":127},{"t":754,"S1":127},{"t":755,"S1":127},{"t":756,"S1":127},{"t":758,"S1":127},{"t":759,"S1":127},{"t":760,"S1":127},{"t":762,"S1":127},{"t":763,"S1":127},{"t":764,"S1":127},{"t":766,"S1":127},{"t":767,"S1":127},{"t":768,"S1":127},{"t":769,"S1":127},
{"t":788,"S1":127},{"t":789,"S1":127},{"t":790,"S1":127},{"t":792,"S1":127},{"t":793,"S1":127},{"t":794,"S1":127},{"t":796,"S1":127},{"t":797,"S1":127},{"t":798,"S1":127},{"t":800,"S1":127},{"t":801,"S1":127},{"t":802,"S1":127},{"t":804,"S1":127},{"t":805,"S1":127},{"t":806,"S1":127},{"t":808,"S1":127},{"t":809,"S1":127},{"t":810,"S1":127},{"t":812,"S1":127},{"t":813,"S1":127},{"t":814,"S1":127},{"t":816,"S1":127},{"t":817,"S1":127},{"t":818,"S1":127},{"t":820,"S1":127},{"t":821,"S1":127},{"t":822,"S1":127}
]},
"transform":[{"fold":["S1","S2","S3","S4","S5","S6"],"as":["series","v"]},{"filter":"isValid(datum.v)"}],
"layer":[
{
"mark":{"type":"line","strokeWidth":1,"clip":true},
"encoding":{
"x":{"field":"t","type":"quantitative","scale":{"domain":[0,900],"nice":false,"zero":false},"axis":{"title":"Time (sec)","values":[0,100,200,300,400,500,600,700,800,900],"labelPadding":12,"titlePadding":14}},
"y":{"field":"v","type":"quantitative","scale":{"domain":[0,300],"nice":false},"axis":{"title":"Number Of FlowRules","values":[0,50,100,150,200,250,300],"labelPadding":15,"titlePadding":33}},
"color":{"field":"series","type":"nominal","scale":{"domain":["S1","S2","S3","S4","S5","S6"],"range":["#000000","#00ee00","#0000ff","#ffa500","#ffff00","#ff0000"]},
"legend":{"orient":"none","legendX":532.5,"legendY":6,"title":null,"padding":0,"labelFont":"DejaVu Sans","labelFontSize":16,"labelColor":"black","labelAlign":"right","labelOffset":-43.5,"labelBaseline":"middle","symbolOffset":40,"symbolSize":64,"symbolStrokeWidth":1,"rowPadding":2.6,"symbolOpacity":1,
"symbolType":{"expr":"datum.value==='S1'?'M-6.5,0H6.5M-0.9,-0.9L0.9,0.9M-0.9,0.9L0.9,-0.9':datum.value==='S2'?'M-6.5,0H6.5M-0.9,-0.9L0.9,0.9M-0.9,0.9L0.9,-0.9M0,-1V1':'M-6.5,0H6.5M-0.9,-0.9H0.9V0.9H-0.9Z'"},
"symbolFillColor":{"expr":"datum.value==='S4'?'#ffa500':datum.value==='S5'?'#ffff00':datum.value==='S6'?'#ff0000':'transparent'"}}},
"strokeDash":{"field":"series","type":"nominal","scale":{"domain":["S1","S2","S3","S4","S5","S6"],"range":[[1,0],[5,3],[2,3],[1,1.5],[7,3,1,3],[6,2,1,2,1,2]]},
"legend":{"orient":"none","legendX":532.5,"legendY":6,"title":null,"padding":0,"labelFont":"DejaVu Sans","labelFontSize":16,"labelColor":"black","labelAlign":"right","labelOffset":-43.5,"labelBaseline":"middle","symbolOffset":40,"symbolSize":64,"symbolStrokeWidth":1,"rowPadding":2.6}}
}
},
{
"mark":{"type":"point","opacity":1,"strokeWidth":1,"size":56,"clip":true},
"encoding":{
"x":{"field":"t","type":"quantitative","axis":{"orient":"top","labels":false,"title":null,"values":[0,100,200,300,400,500,600,700,800,900]}},
"y":{"field":"v","type":"quantitative","axis":{"orient":"right","labels":false,"title":null,"values":[0,50,100,150,200,250,300]}},
"shape":{"field":"series","type":"nominal","scale":{"domain":["S1","S2","S3","S4","S5","S6"],"range":["M-1,-1L1,1M-1,1L1,-1","M-1,-1L1,1M-1,1L1,-1M-1,0H1M0,-1V1","square","square","square","square"]},"legend":null},
"stroke":{"field":"series","type":"nominal","scale":{"domain":["S1","S2","S3","S4","S5","S6"],"range":["#000000","#00ee00","#0000ff","#ffa500","#ffff00","#ff0000"]},"legend":null},
"fill":{"field":"series","type":"nominal","scale":{"domain":["S1","S2","S3","S4","S5","S6"],"range":["transparent","transparent","transparent","#ffa500","#ffff00","#ff0000"]},"legend":null},
"order":{"field":"series","type":"nominal"}
}
}
],
"resolve":{"axis":{"x":"independent","y":"independent"},"scale":{"shape":"independent","fill":"independent","stroke":"independent"}}
}
